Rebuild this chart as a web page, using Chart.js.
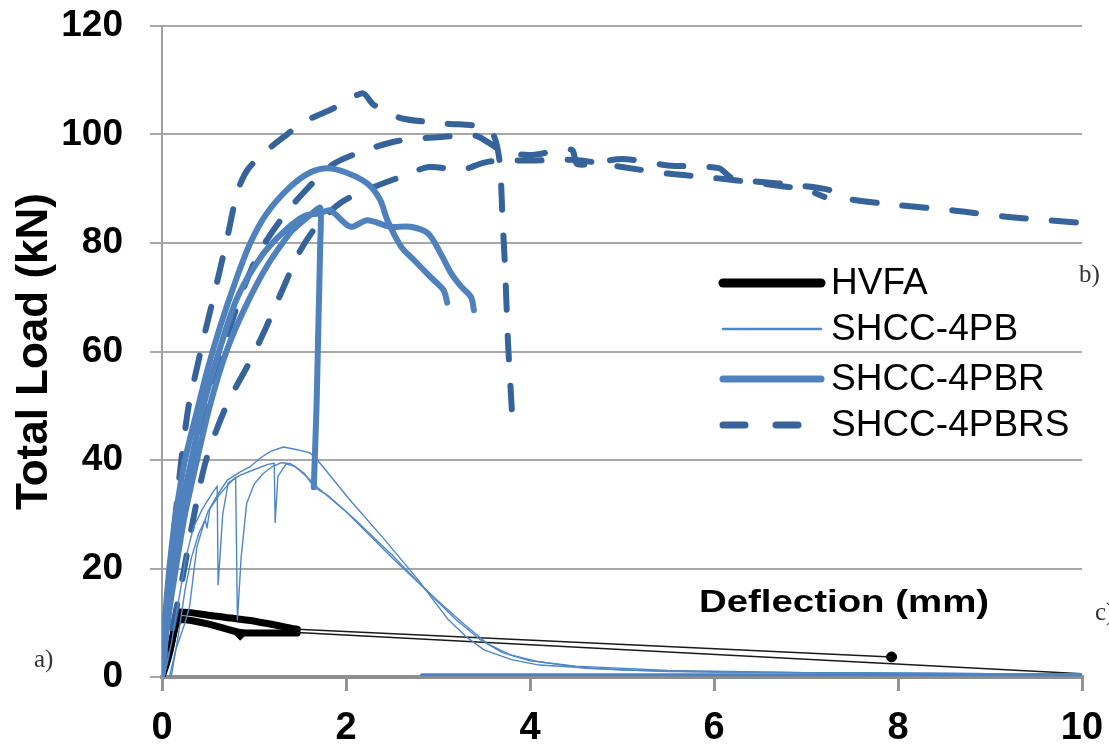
<!DOCTYPE html>
<html>
<head>
<meta charset="utf-8">
<title>Total Load vs Deflection</title>
<script src="https://cdn.jsdelivr.net/npm/chart.js@4.4.1/dist/chart.umd.min.js"></script>
<style>
    body { margin: 0; background: #fff; }
    canvas { display: block; }
</style>
</head>
<body>
<canvas id="loadChart" width="1109" height="751"></canvas>
<script>
// Axis ticks
const xTicks = [0, 2, 4, 6, 8, 10];
const yTicks = [0, 20, 40, 60, 80, 100, 120];
const seriesNames = ['HVFA', 'SHCC-4PB', 'SHCC-4PBR', 'SHCC-4PBRS'];

// HVFA specimens: [deflection mm, load kN]
const hvfaA = [[0, 0], [0.02, 1.5], [0.06, 3.5], [0.1, 6], [0.13, 8.5], [0.16, 11], [0.2, 12], [0.5, 11.4], [0.96, 10.4], [1.47, 8.8]];
const hvfaB = [[0.01, 0.5], [0.05, 2.5], [0.09, 5], [0.12, 7.5], [0.15, 9.5], [0.2, 10.6], [0.5, 9.8], [0.85, 8.2], [1.2, 8.1], [1.47, 8.1]];
const hvfaTailA = [[1.47, 8.8], [7.93, 3.7]];
const hvfaTailB = [[1.47, 8.2], [10, 0.6]];
const hvfaDot = [[7.93, 3.7]];
const hvfaDiamond = [[0.85, 7.7]];

// SHCC-4PB specimens
const pb1 = [[0.08, 0], [0.15, 5], [0.25, 10], [0.3, 13], [0.35, 20], [0.38, 24], [0.45, 28], [0.5, 30.5], [0.6, 33.5], [0.71, 36.3], [0.85, 37.8], [0.96, 38.8], [1.08, 40.5], [1.18, 41.6], [1.32, 42.4], [1.47, 41.9], [1.61, 41.3], [1.69, 40], [2.05, 32.5], [2.41, 25.5], [2.78, 18], [3.1, 10.8], [3.3, 7.5], [3.5, 5], [3.8, 3.2], [4.1, 2.2], [5, 1.3], [6, 0.9], [8, 0.7], [10, 0.5]];
const pb2 = [[0.02, 0], [0.1, 6], [0.18, 14], [0.26, 22], [0.34, 27.5], [0.44, 31], [0.55, 34], [0.6, 35.2], [0.61, 17], [0.66, 30], [0.72, 35.8], [0.85, 37.2], [1, 38.2], [1.15, 39.2], [1.22, 39.4], [1.23, 28.5], [1.26, 37], [1.35, 39.3], [1.45, 38.8], [1.6, 36.5], [1.7, 34.8], [2, 30.5], [2.5, 22], [3, 14], [3.3, 9.5], [3.55, 6], [3.8, 4], [4.1, 2.8], [4.6, 1.6], [5.5, 1], [7, 0.8], [10, 0.5]];
const pb3 = [[0.1, 0], [0.18, 8], [0.25, 16], [0.32, 22], [0.4, 26.5], [0.47, 29], [0.49, 27.5], [0.52, 31], [0.62, 33.5], [0.72, 35.5], [0.8, 36.8], [0.82, 10.5], [0.86, 22], [0.92, 32], [1, 35.5], [1.1, 37.5], [1.2, 38.8], [1.3, 39.5], [1.4, 39.3], [1.55, 37.5], [1.65, 35], [1.8, 33.5], [2.1, 29], [2.5, 22.5], [2.9, 15.5], [3.2, 10.5], [3.45, 7], [3.7, 4.5], [4, 3], [4.5, 2], [5.5, 1.2], [7, 0.8], [10, 0.5]];

// SHCC-4PBR specimens
const pbr1 = [[0, 0], [0.03, 10], [0.08, 20], [0.15, 30], [0.25, 40], [0.38, 49], [0.5, 57], [0.63, 64.5], [0.8, 73], [0.96, 80], [1.14, 85.5], [1.39, 90.3], [1.61, 93], [1.8, 93.8], [2, 93], [2.23, 91], [2.37, 88], [2.45, 84.2], [2.6, 79.3], [2.73, 77], [2.92, 73.7], [3.06, 71.3], [3.1, 69]];
const pbr2 = [[0, 0], [0.05, 10], [0.12, 20], [0.2, 30], [0.32, 40], [0.45, 50], [0.62, 60], [0.82, 70], [1.1, 78], [1.35, 82.5], [1.55, 85], [1.72, 85.5], [1.83, 86], [2.05, 83], [2.23, 84.2], [2.48, 83], [2.7, 83], [2.89, 81.8], [3.03, 78], [3.14, 74.5], [3.25, 72], [3.36, 70], [3.39, 67.6]];
const pbr3 = [[0, 0], [0.06, 10], [0.15, 20], [0.25, 30], [0.38, 40], [0.52, 50], [0.7, 60], [0.9, 68], [1.15, 76], [1.4, 82], [1.6, 85], [1.72, 86.5], [1.72, 80], [1.7, 65], [1.68, 50], [1.65, 35]];
const pbrTail = [[2.82, 0.4], [10, 0.4]];

// SHCC-4PBRS specimens
const pbrs1 = [[0, 0], [0.04, 10], [0.1, 22], [0.16, 32], [0.21, 40], [0.29, 50], [0.38, 57], [0.46, 63], [0.56, 70], [0.71, 81], [0.82, 89.5], [0.93, 93.5], [1.1, 96.5], [1.32, 99.5], [1.54, 102.3], [1.86, 104.8], [2.18, 107.6], [2.3, 105.5], [2.6, 103], [3.1, 102], [3.45, 101.5], [3.6, 100], [3.67, 95], [3.7, 85], [3.73, 75], [3.76, 62], [3.8, 50], [3.82, 45]];
const pbrs2 = [[0, 0], [0.06, 10], [0.14, 20], [0.24, 30], [0.36, 40], [0.5, 50], [0.66, 60], [0.85, 70], [1.05, 78], [1.3, 84.5], [1.55, 89.5], [1.86, 94.5], [2.2, 97], [2.56, 98.8], [3, 99.5], [3.4, 99.8], [3.55, 98.5], [3.7, 97], [4, 96.2], [4.45, 97.2], [4.52, 94.5], [5, 95.5], [5.5, 94.3], [6.05, 93.8], [6.2, 92], [6.8, 90.8], [7.25, 89.8], [7.4, 88.3], [8, 87], [8.6, 86], [9.2, 84.8], [10, 83.7]];
const pbrs3 = [[0, 0], [0.1, 8], [0.22, 18], [0.35, 30], [0.48, 40], [0.7, 50], [0.95, 58], [1.12, 64], [1.3, 71], [1.5, 78.5], [1.7, 83.5], [1.95, 87.5], [2.3, 90.3], [2.6, 92.2], [2.9, 94], [3.25, 93.5], [3.55, 95], [4.04, 95.2], [4.5, 95.3], [5, 94], [5.5, 92.8], [6, 92], [6.5, 91], [7, 89.8], [7.2, 88.5]];

// Styles
const styleHvfa = { borderColor: '#000000', borderWidth: 7 };
const styleHvfaTail = { borderColor: '#1a1a1a', borderWidth: 1.5 };
const stylePb = { borderColor: '#4f86c6', borderWidth: 1.4 };
const stylePbr = { borderColor: '#4f81bd', borderWidth: 6 };
const stylePbrTail = { borderColor: '#4f81bd', borderWidth: 3 };
const stylePbrs = { borderColor: '#36649a', borderWidth: 6, borderDash: [24, 26] };

const legendStyles = [
    { color: '#000000', width: 9, dash: [] },
    { color: '#4f86c6', width: 2.5, dash: [] },
    { color: '#4f81bd', width: 7, dash: [] },
    { color: '#36649a', width: 7, dash: [22, 31] }
];

const FONT = '"Liberation Sans", Arial, sans-serif';

const curve = (points, style, tension) => ({
    data: points.map(([x, y]) => ({ x, y })),
    showLine: true,
    fill: false,
    pointRadius: 0,
    tension: tension,
    borderCapStyle: 'round',
    borderJoinStyle: 'round',
    ...style
});

const marker = (points, pointStyle, radius) => ({
    data: points.map(([x, y]) => ({ x, y })),
    showLine: false,
    pointStyle: pointStyle,
    pointRadius: radius,
    backgroundColor: '#000',
    borderColor: '#000',
    borderWidth: 1
});

// Legend and annotation text drawn inside the plot
const overlayPlugin = {
    id: 'overlay',
    afterDraw(chart) {
        const ctx = chart.ctx;
        ctx.save();

        // legend
        const rows = [283, 329, 379, 425];
        seriesNames.forEach((name, i) => {
            const st = legendStyles[i];
            ctx.beginPath();
            ctx.setLineDash(st.dash);
            ctx.lineCap = 'round';
            ctx.strokeStyle = st.color;
            ctx.lineWidth = st.width;
            ctx.moveTo(723, rows[i]);
            ctx.lineTo(821, rows[i]);
            ctx.stroke();
            ctx.setLineDash([]);
            ctx.fillStyle = '#000';
            ctx.font = '37px ' + FONT;
            ctx.textAlign = 'left';
            ctx.textBaseline = 'middle';
            ctx.fillText(name, 831, rows[i] + 1);
        });

        // x axis title sits inside the plot area
        ctx.save();
        ctx.translate(844, 603);
        ctx.scale(1.2, 1);
        ctx.font = 'bold 32px ' + FONT;
        ctx.textAlign = 'center';
        ctx.textBaseline = 'middle';
        ctx.fillStyle = '#000';
        ctx.fillText('Deflection (mm)', 0, 0);
        ctx.restore();

        // panel letters
        ctx.font = '25px "Liberation Serif", "Times New Roman", serif';
        ctx.fillStyle = '#333';
        ctx.textAlign = 'left';
        ctx.textBaseline = 'middle';
        ctx.fillText('a)', 34, 660);
        ctx.fillText('b)', 1079, 275);
        ctx.fillText('c)', 1095, 613);
        ctx.restore();
    }
};

const initLoadChart = () => {
    const ctx = document.getElementById('loadChart').getContext('2d');
    new Chart(ctx, {
        type: 'scatter',
        data: {
            datasets: [
                curve(pb1, stylePb, 0),
                curve(pb2, stylePb, 0),
                curve(pb3, stylePb, 0),
                curve(pbrTail, stylePbrTail, 0),
                curve(pbr1, stylePbr, 0.3),
                curve(pbr2, stylePbr, 0.3),
                curve(pbr3, stylePbr, 0.2),
                curve(pbrs1, stylePbrs, 0.25),
                curve(pbrs2, stylePbrs, 0.3),
                curve(pbrs3, stylePbrs, 0.3),
                curve(hvfaTailA, styleHvfaTail, 0),
                curve(hvfaTailB, styleHvfaTail, 0),
                curve(hvfaA, styleHvfa, 0.2),
                curve(hvfaB, styleHvfa, 0.2),
                marker(hvfaDot, 'circle', 5),
                marker(hvfaDiamond, 'rectRot', 5)
            ]
        },
        options: {
            responsive: false,
            animation: false,
            devicePixelRatio: 1,
            layout: {
                padding: { top: 26, right: 27, bottom: 0, left: 0 }
            },
            plugins: {
                legend: { display: false },
                tooltip: { enabled: false }
            },
            scales: {
                x: {
                    type: 'linear',
                    min: 0,
                    max: 10,
                    afterBuildTicks: (scale) => {
                        scale.ticks = xTicks.map(v => ({ value: v }));
                    },
                    afterFit: (scale) => {
                        scale.height = 74;
                        scale.paddingLeft = 0;
                        scale.paddingRight = 0;
                    },
                    grid: {
                        drawOnChartArea: false,
                        drawTicks: true,
                        tickLength: 14,
                        color: '#959595',
                        lineWidth: 3
                    },
                    border: { display: true, color: '#8e8e8e', width: 4 },
                    ticks: {
                        padding: 15,
                        color: '#000',
                        font: { family: FONT, size: 38, weight: 'bold' }
                    }
                },
                y: {
                    type: 'linear',
                    min: 0,
                    max: 120,
                    afterBuildTicks: (scale) => {
                        scale.ticks = yTicks.map(v => ({ value: v }));
                    },
                    afterFit: (scale) => {
                        scale.width = 162;
                        scale.paddingTop = 0;
                        scale.paddingBottom = 0;
                    },
                    grid: {
                        drawTicks: true,
                        tickLength: 12,
                        color: '#a8a8a8',
                        lineWidth: 2
                    },
                    border: { display: true, color: '#a0a0a0', width: 2 },
                    ticks: {
                        padding: 27,
                        color: '#000',
                        font: { family: FONT, size: 37, weight: 'bold' }
                    },
                    title: {
                        display: true,
                        text: 'Total Load (kN)',
                        color: '#000',
                        padding: { top: 8, bottom: 0 },
                        font: { family: FONT, size: 44, weight: 'bold' }
                    }
                }
            }
        },
        plugins: [overlayPlugin]
    });
};

document.addEventListener('DOMContentLoaded', () => {
    initLoadChart();
});
</script>
</body>
</html>
